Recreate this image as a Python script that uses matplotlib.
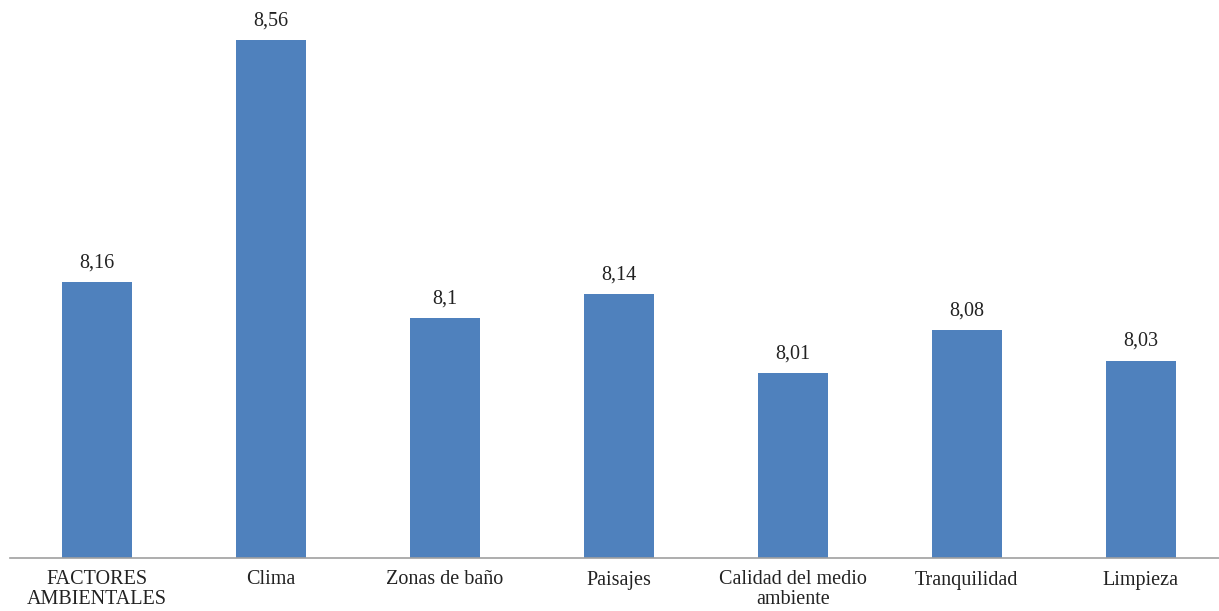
import matplotlib
matplotlib.use("Agg")
import matplotlib.pyplot as plt

categories = ["FACTORES\nAMBIENTALES", "Clima", "Zonas de baño", "Paisajes",
              "Calidad del medio\nambiente", "Tranquilidad", "Limpieza"]
values = [8.16, 8.56, 8.1, 8.14, 8.01, 8.08, 8.03]
value_labels = ["8,16", "8,56", "8,1", "8,14", "8,01", "8,08", "8,03"]

plt.rcParams['font.family'] = ['Liberation Serif', 'DejaVu Serif']

fig = plt.figure(figsize=(12.19, 6.11), dpi=100)
ax = fig.add_axes([10 / 1219, 53 / 611, 1209 / 1219, 558 / 611])

x = range(len(categories))
bars = ax.bar(x, values, width=0.4, color="#4F81BD", zorder=2)

for b, lab in zip(bars, value_labels):
    ax.annotate(lab, (b.get_x() + b.get_width() / 2, b.get_height()),
                xytext=(0, 7), textcoords="offset points",
                ha="center", va="bottom", fontsize=14.5, color="#222222")

ax.set_ylim(7.704, 8.626)
ax.set_xlim(-0.5, 6.45)
ax.set_xticks(list(x))
ax.set_xticklabels(categories, fontsize=14.5, color="#222222", linespacing=1.0)
ax.tick_params(axis="x", length=0, pad=9)
ax.set_yticks([])
for s in ["top", "right", "left"]:
    ax.spines[s].set_visible(False)
ax.spines["bottom"].set_color("#A0A0A0")
ax.spines["bottom"].set_linewidth(1.2)

fig.savefig("out.png", dpi=100)
